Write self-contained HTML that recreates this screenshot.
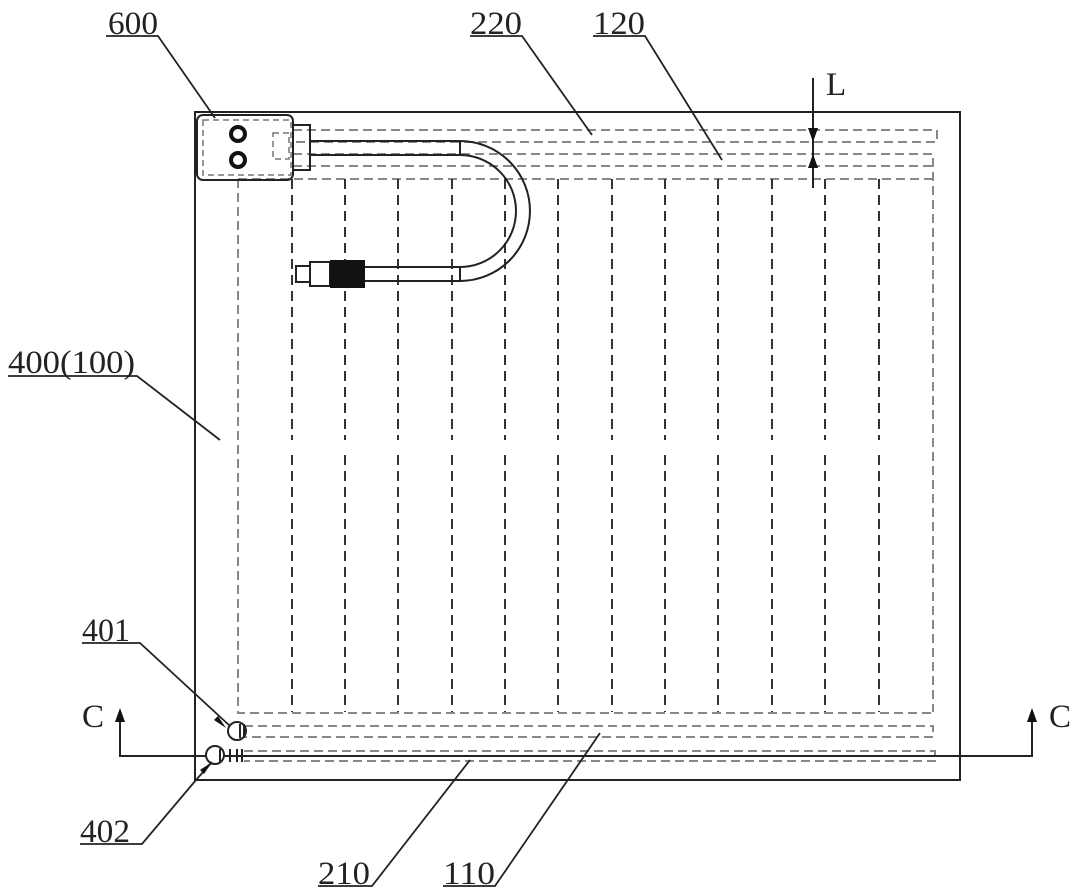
<!DOCTYPE html>
<html><head><meta charset="utf-8"><style>html,body{margin:0;padding:0;background:#fff}svg{display:block}</style></head><body>
<svg width="1080" height="894" viewBox="0 0 1080 894" xmlns="http://www.w3.org/2000/svg" font-family="Liberation Serif, serif" font-size="33">
<g fill="none" stroke="#222" stroke-width="2">
<rect x="195" y="112" width="765" height="668"/>
</g>
<g fill="none" stroke="#888" stroke-width="2" stroke-dasharray="9,5">
<path d="M293 130H937V142H293"/>
<path d="M293 154H933V712"/>
<path d="M293 166H933"/>
<path d="M238 179H933"/>
<path d="M238 179V713H933"/>
<path d="M244 726H933V737H244"/>
<path d="M244 751H935V761H244"/>
</g>
<g fill="none" stroke="#333" stroke-width="2" stroke-dasharray="10,6">
<path d="M292 179V440M292 455V712M345 179V440M345 455V712M398 179V440M398 455V712M452 179V440M452 455V712M505 179V440M505 455V712M558 179V440M558 455V712M612 179V440M612 455V712M665 179V440M665 455V712M718 179V440M718 455V712M772 179V440M772 455V712M825 179V440M825 455V712M879 179V440M879 455V712"/>
</g>
<g fill="none" stroke="#222" stroke-width="2">
<rect x="197" y="115" width="96" height="65" rx="6"/>
<rect x="293" y="125" width="17" height="45"/>
<path d="M310 141H460A70 70 0 0 1 460 281H365M310 155H460A56 56 0 0 1 460 267H365M460 141V155M460 267V281"/>
<rect x="310" y="262" width="20" height="24"/>
<rect x="296" y="266" width="14" height="16"/>
</g>
<rect x="330" y="260" width="35" height="28" fill="#111"/>
<g fill="none" stroke="#777" stroke-width="1.5" stroke-dasharray="6,4"><rect x="203" y="120" width="88" height="55"/><rect x="273" y="133" width="16" height="26"/></g>
<g fill="none" stroke="#111" stroke-width="4"><circle cx="238" cy="134" r="7"/><circle cx="238" cy="160" r="7"/></g>
<g fill="none" stroke="#222" stroke-width="2">
<circle cx="237" cy="731" r="9"/><path d="M240 724V738M244 724V738"/>
<circle cx="215" cy="755" r="9"/><path d="M220 749V762M230 749V762M237 749V762M242 749V762"/>
</g>
<g fill="none" stroke="#222" stroke-width="2">
<path d="M120 720V756H206M224 756H1032V720"/>
</g>
<g fill="#111"><path d="M115 722L120 708L125 722Z"/><path d="M1027 722L1032 708L1037 722Z"/></g>
<g stroke="#222" stroke-width="2" fill="none"><path d="M813 78V188"/></g>
<g fill="#111"><path d="M808 128L813 142L818 128Z"/><path d="M808 168L813 154L818 168Z"/></g>
<g fill="none" stroke="#222" stroke-width="1.8">
<path d="M106 36H158L215 118"/>
<path d="M470 36H522L592 135"/>
<path d="M593 36H645L722 160"/>
<path d="M8 376H137L220 440"/>
<path d="M82 643H140L230 726"/>
<path d="M80 844H142L196 780L212 762"/>
<path d="M318 886H372L470 760"/>
<path d="M443 886H495L600 733"/>
</g>
<g fill="#111"><path d="M226 728L218 716L214 720Z"/><path d="M212 762L200 770L204 774Z"/></g>
<g fill="#222">
<text x="108" y="34" textLength="50" lengthAdjust="spacingAndGlyphs">600</text>
<text x="470" y="34" textLength="52" lengthAdjust="spacingAndGlyphs">220</text>
<text x="593" y="34" textLength="52" lengthAdjust="spacingAndGlyphs">120</text>
<text x="826" y="95">L</text>
<text x="8" y="373" textLength="127" lengthAdjust="spacingAndGlyphs">400(100)</text>
<text x="82" y="641" textLength="48" lengthAdjust="spacingAndGlyphs">401</text>
<text x="82" y="727">C</text>
<text x="1049" y="727">C</text>
<text x="80" y="842" textLength="50" lengthAdjust="spacingAndGlyphs">402</text>
<text x="318" y="884" textLength="52" lengthAdjust="spacingAndGlyphs">210</text>
<text x="443" y="884" textLength="52" lengthAdjust="spacingAndGlyphs">110</text>
</g>
</svg>
</body></html>
